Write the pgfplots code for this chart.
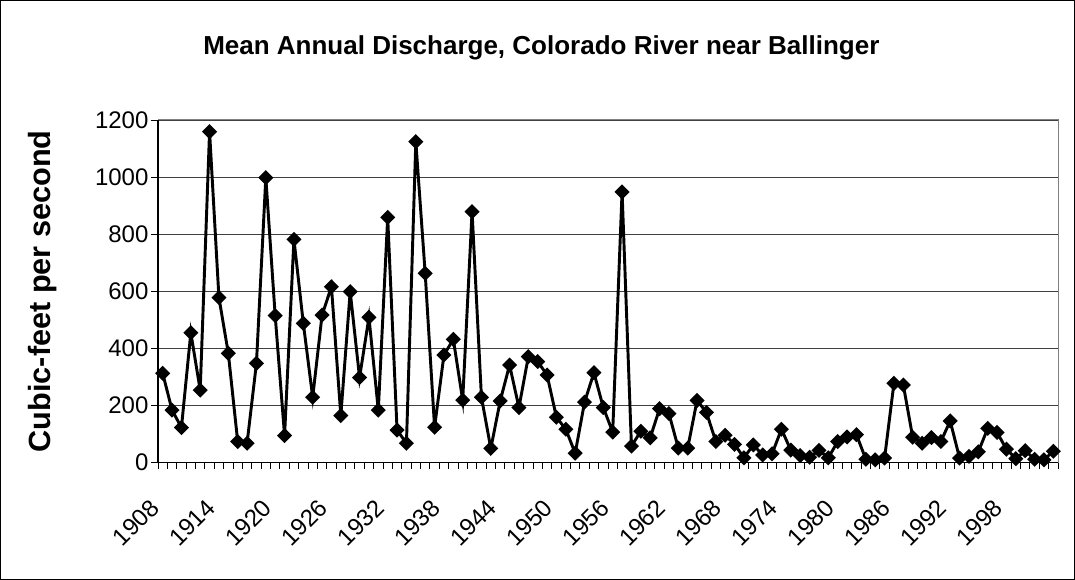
\documentclass[border=0pt]{standalone}
\usepackage{pgfplots}
\pgfplotsset{compat=1.18}
\usepackage{fontspec}
\setmainfont{Liberation Sans}
\pgfplotstableread{
year value
1908 313
1909 184
1910 123
1911 455
1912 254
1913 1159
1914 578
1915 383
1916 74
1917 68
1918 348
1919 998
1920 515
1921 95
1922 782
1923 488
1924 229
1925 517
1926 616
1927 165
1928 599
1929 298
1930 509
1931 184
1932 859
1933 114
1934 68
1935 1124
1936 663
1937 124
1938 377
1939 432
1940 219
1941 879
1942 229
1943 50
1944 216
1945 342
1946 193
1947 371
1948 354
1949 307
1950 159
1951 117
1952 33
1953 212
1954 315
1955 193
1956 107
1957 948
1958 58
1959 110
1960 87
1961 189
1962 172
1963 51
1964 51
1965 218
1966 176
1967 74
1968 96
1969 64
1970 17
1971 62
1972 27
1973 31
1974 117
1975 44
1976 25
1977 19
1978 43
1979 17
1980 74
1981 90
1982 98
1983 12
1984 10
1985 16
1986 278
1987 272
1988 89
1989 68
1990 88
1991 74
1992 146
1993 16
1994 22
1995 38
1996 120
1997 106
1998 47
1999 14
2000 42
2001 12
2002 10
2003 40
}\discharge
\begin{document}
\begin{tikzpicture}
\useasboundingbox (0,0) rectangle (806.25pt,435pt);
\draw[black, line width=0.75pt] (0.4pt,0.4pt) rectangle (805.85pt,434.6pt);
\node[font=\bfseries\fontsize{19.5}{22}\selectfont] at (406pt,399pt) {Mean Annual Discharge, Colorado River near Ballinger};
\begin{axis}[
  at={(118.5pt,88pt)}, anchor=south west,
  scale only axis, width=675pt, height=257pt,
  xmin=1907.5, xmax=2003.5, ymin=0, ymax=1200,
  ytick={0,200,...,1200},
  xtick={1908,1914,...,1998},
  minor xtick={1907.5,1908.5,...,2003.5},
  tick pos=left, tick align=outside,
  major tick length=5pt, minor tick length=5pt,
  major x tick style={draw=none},
  minor x tick style={black, line width=0.6pt},
  ytick style={black, line width=0.6pt},
  axis line style={draw=gray, line width=0.75pt},
  ymajorgrids, major y grid style={black!75, line width=0.6pt},
  /pgf/number format/assume math mode=true,
  /pgf/number format/1000 sep={},
  tick label style={font=\fontsize{18}{20}\selectfont},
  yticklabel style={inner xsep=2pt},
  xticklabel style={xshift=-10.5pt, yshift=-21pt, rotate=45, anchor=north east, inner sep=0pt},
  ylabel={Cubic-feet per second},
  ylabel style={font=\bfseries\fontsize{23}{25}\selectfont, at={(axis description cs:-0.128,0.5)}, rotate=0, anchor=center},
  clip=false,
]
\draw[black, line width=0.9pt] (rel axis cs:0,1) -- (rel axis cs:0,0) -- (rel axis cs:1,0);
\addplot[black, line width=2.2pt, mark=square*, mark size=2.9pt, mark options={rotate=45, solid, fill=black}] table[x=year, y=value] {\discharge};
\end{axis}
\end{tikzpicture}
\end{document}
